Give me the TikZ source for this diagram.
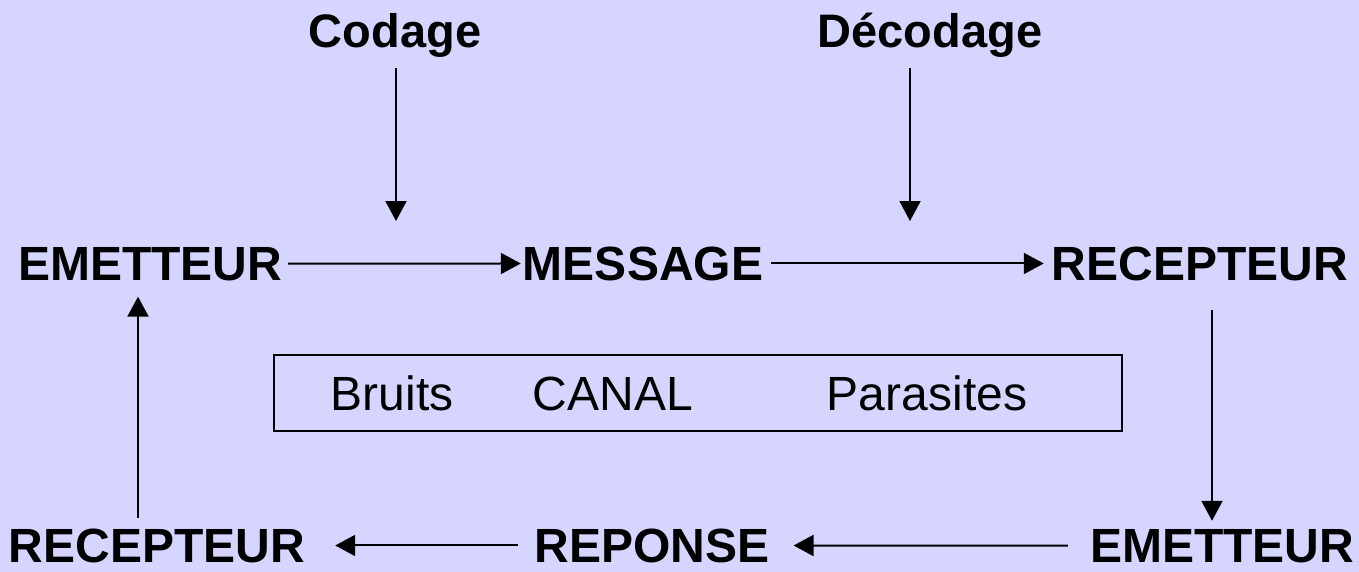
\documentclass[tikz,border=0pt]{standalone}
\usepackage{fontspec}
\setmainfont{Liberation Sans}
\usetikzlibrary{arrows.meta}
\definecolor{bgcol}{RGB}{213,213,255}
\tikzset{
  lbl/.style={anchor=base, inner sep=0pt, font=\fontsize{48}{56}\selectfont\bfseries},
  toplbl/.style={anchor=base, inner sep=0pt, font=\fontsize{47}{56}\selectfont\bfseries},
  chan/.style={anchor=base, inner sep=0pt, font=\fontsize{48}{56}\selectfont},
  flow/.style={line width=2pt, -{Triangle[length=20pt,width=21pt]}},
}
\begin{document}
\begin{tikzpicture}[x=1pt, y=-1pt]
  \fill[bgcol] (0,0) rectangle (1359,572);
  \useasboundingbox (0,0) rectangle (1359,572);

  % coding / decoding labels
  \node[toplbl] (cod) at (395,48) {Codage};
  \node[toplbl] (dec) at (930,48) {Décodage};
  \coordinate (codend) at (396,221);
  \coordinate (decend) at (910,221);

  % main line
  \node[lbl] (em1) at (150,280) {EMETTEUR};
  \node[lbl] (msg) at (643,280) {MESSAGE};
  \node[lbl] (rec1) at (1200,280) {RECEPTEUR};

  % return line
  \node[lbl] (rec2) at (157,562) {RECEPTEUR};
  \node[lbl] (rep) at (652,562) {REPONSE};
  \node[lbl] (em2) at (1222,562) {EMETTEUR};

  % channel box
  \node[draw, line width=2pt, minimum width=848pt, minimum height=76pt, inner sep=0pt] (canal) at (698,393) {};
  \node[chan] (bruits) at (392,410) {Bruits};
  \node[chan] (canaltxt) at (613,410) {CANAL};
  \node[chan] (paras) at (927,410) {Parasites};

  % vertical guides for the side arrows
  \coordinate (upx) at (138,0);
  \coordinate (dnx) at (1212,0);

  % connectors
  \draw[flow, shorten <=10pt] ([xshift=1pt]cod.south) -- (codend);
  \draw[flow, shorten <=10pt] ([xshift=-20pt]dec.south) -- (decend);
  \draw[flow, shorten <=6pt, shorten >=2pt] (em1.east) -- (msg.west);
  \draw[flow, shorten <=8pt, shorten >=8pt] (msg.east) -- (rec1.west);
  \draw[flow, shorten <=29pt, shorten >=8pt] (rec1.south -| dnx) -- (em2.north -| dnx);
  \draw[flow, shorten <=22pt, shorten >=24pt] (em2.west) -- (rep.east);
  \draw[flow, shorten <=16pt, shorten >=30pt] (rep.west) -- (rec2.east);
  \draw[flow, shorten <=10pt, shorten >=16pt] (rec2.north -| upx) -- (em1.south -| upx);
\end{tikzpicture}
\end{document}
